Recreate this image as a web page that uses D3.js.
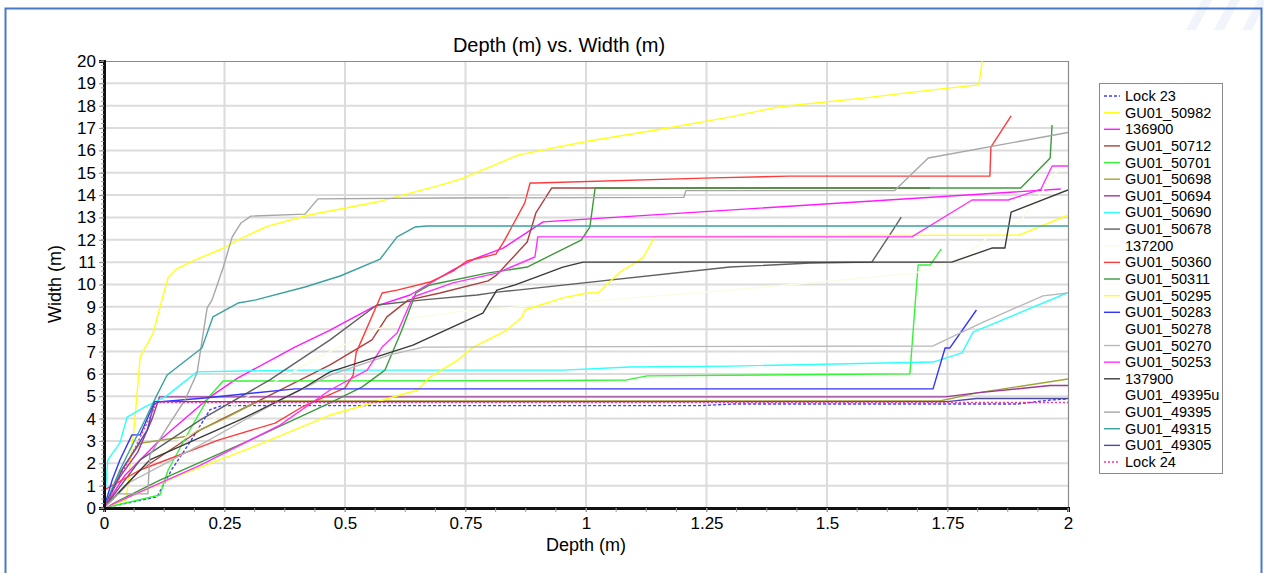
<!DOCTYPE html>
<html>
<head>
<meta charset="utf-8">
<script src="https://cdn.jsdelivr.net/npm/d3@7"></script>
<style>
  html, body { margin: 0; padding: 0; background: #ffffff; }
  svg { display: block; font-family: "Liberation Sans", Arial, sans-serif; }
</style>
</head>
<body>
<svg id="chart" width="1264" height="573"></svg>
<script>
// ---------------- DATA (depth m, width m) ----------------
const xTicks = [0, 0.25, 0.5, 0.75, 1, 1.25, 1.5, 1.75, 2];
const xTickLabels = ["0", "0.25", "0.5", "0.75", "1", "1.25", "1.5", "1.75", "2"];
const yTicks = d3.range(0, 21);

const seriesNames = ["Lock 23", "GU01_50982", "136900", "GU01_50712", "GU01_50701", "GU01_50698",
  "GU01_50694", "GU01_50690", "GU01_50678", "137200", "GU01_50360", "GU01_50311", "GU01_50295",
  "GU01_50283", "GU01_50278", "GU01_50270", "GU01_50253", "137900", "GU01_49395u", "GU01_49395",
  "GU01_49315", "GU01_49305", "Lock 24"];

const lock23 = [[0,0],[0.11,0.5],[0.14,1.7],[0.18,3.0],[0.22,4.4],[0.245,4.58],[1.24,4.58],[1.305,4.65],[1.894,4.65],[1.963,4.83],[2,4.88]];
const gu50982 = [[0,0],[0.046,0.36],[0.064,3.94],[0.075,6.76],[0.102,7.83],[0.12,9.3],[0.133,10.3],[0.151,10.7],[0.189,11.1],[0.245,11.6],[0.278,12.0],[0.338,12.6],[0.423,13.1],[0.568,13.7],[0.707,14.5],[0.744,14.75],[0.86,15.8],[1.0,16.4],[1.17,17.0],[1.3,17.5],[1.4,17.95],[1.57,18.33],[1.727,18.73],[1.815,18.93],[1.822,19.97],[1.83,20.6]];
const s136900 = [[0,0],[0.044,1.48],[0.116,3.04],[0.22,4.97],[0.278,5.82],[0.396,7.2],[0.469,7.96],[0.558,8.99],[0.635,9.53],[0.724,10.65],[0.768,11.14],[0.828,11.63],[0.911,12.8],[1.985,14.27]];
const gu50712 = [[0,0],[0.075,1.7],[0.2,3.49],[0.324,4.83],[0.469,6.4],[0.556,7.52],[0.587,8.55],[0.631,9.3],[0.697,9.62],[0.797,10.16],[0.815,10.43],[0.878,11.9],[0.896,13.2],[0.929,14.32],[1.714,14.32]];
const gu50701 = [[0,0],[0.116,0.58],[0.133,1.7],[0.178,3.49],[0.216,4.92],[0.247,5.68],[0.884,5.7],[1.085,5.73],[1.127,5.91],[1.672,6.0],[1.689,10.87],[1.714,10.87],[1.737,11.59]];
const gu50698 = [[0,0],[0.03,1.5],[0.075,2.9],[0.17,3.2],[0.25,4.0],[0.32,4.79],[1.734,4.79],[1.811,5.15],[2.0,5.77]];
const gu50694 = [[0,0],[0.03,1.3],[0.07,2.5],[0.1,4.0],[0.115,4.97],[1.745,4.97],[1.811,5.15],[1.963,5.48],[2,5.48]];
const gu50690 = [[0,0],[0.008,2.15],[0.033,2.91],[0.048,4.07],[0.085,4.52],[0.127,4.97],[0.193,6.09],[0.396,6.17],[0.952,6.17],[1.091,6.31],[1.299,6.35],[1.72,6.53],[1.78,6.94],[1.803,7.87],[1.998,9.62]];
const gu50678 = [[0,0],[0.075,2.15],[0.2,3.94],[0.344,5.73],[0.469,7.52],[0.566,9.08],[0.662,9.31],[0.774,9.53],[0.815,9.66],[0.857,9.75],[1.299,10.78],[1.465,10.96],[1.593,11.0],[1.637,12.44],[1.654,13.02]];
const s137200 = [[0,0],[0.1,2.2],[0.3,5.0],[0.45,6.8],[0.56,7.96],[0.64,8.5],[0.74,8.8],[1.3,9.75],[1.68,10.5],[1.78,11.2],[1.84,12.2],[1.9,12.8],[1.985,15.3],[2,15.6]];
const gu50360 = [[0,0.8],[0.075,1.7],[0.237,3.04],[0.355,3.8],[0.411,4.52],[0.5,5.37],[0.517,5.95],[0.523,6.94],[0.577,9.62],[0.608,9.75],[0.676,10.11],[0.724,10.6],[0.753,11.05],[0.813,11.36],[0.828,11.86],[0.873,13.65],[0.884,14.54],[0.896,14.54],[1.263,14.77],[1.421,14.85],[1.838,14.85],[1.84,16.15],[1.882,17.54]];
const gu50311 = [[0,0],[0.116,1.25],[0.303,3.04],[0.469,4.7],[0.535,5.41],[0.583,6.17],[0.618,7.96],[0.647,9.62],[0.676,9.98],[0.795,10.51],[0.878,10.78],[0.99,11.99],[1.008,12.57],[1.019,14.32],[1.902,14.32],[1.963,15.66],[1.967,17.14]];
const gu50295 = [[0,0],[0.158,1.48],[0.303,2.68],[0.469,4.16],[0.651,5.28],[0.676,5.86],[0.734,6.62],[0.766,7.2],[0.836,7.96],[0.867,8.55],[0.873,8.86],[0.952,9.4],[1.002,9.62],[1.025,9.62],[1.071,10.56],[1.118,11.19],[1.143,12.17],[1.898,12.21],[2.0,13.1]];
const gu50283 = [[0,0],[0.017,1.25],[0.033,2.15],[0.058,3.27],[0.075,3.27],[0.102,4.6],[0.112,4.74],[0.209,4.92],[0.396,5.33],[1.72,5.33],[1.745,7.16],[1.755,7.16],[1.81,8.86]];
const gu50278 = [[0,0],[0.02,0.4]];
const gu50270 = [[0,0],[0.054,1.16],[0.2,2.82],[0.365,4.83],[0.469,5.95],[0.593,6.85],[0.662,7.2],[1.72,7.25],[1.824,8.32],[1.948,9.49],[2.0,9.62]];
const gu50253 = [[0,0],[0.2,1.92],[0.365,3.71],[0.469,5.28],[0.546,6.17],[0.577,7.2],[0.608,7.83],[0.641,9.44],[0.724,10.07],[0.815,10.51],[0.894,11.23],[0.9,12.13],[1.676,12.13],[1.801,13.78],[1.876,13.78],[1.944,14.27],[1.967,15.3],[2.0,15.3]];
const s137900 = [[0,0],[0.095,2.15],[0.282,3.94],[0.407,5.28],[0.469,6.09],[0.641,7.29],[0.786,8.72],[0.815,9.75],[0.853,9.98],[0.898,10.34],[0.952,10.78],[0.994,11.0],[1.759,11.0],[1.842,11.63],[1.869,11.63],[1.882,13.24],[2.0,14.23]];
const gu49395u = [[0,0],[0.02,0.3]];
const gu49395 = [[0,0],[0.029,0.63],[0.091,0.63],[0.095,2.37],[0.141,3.94],[0.168,4.83],[0.193,6.04],[0.214,8.95],[0.224,9.3],[0.247,10.74],[0.266,12.13],[0.284,12.75],[0.305,13.06],[0.417,13.15],[0.444,13.83],[0.707,13.87],[1.203,13.9],[1.207,14.2],[1.64,14.2],[1.71,15.66],[2.0,16.8]];
const gu49315 = [[0,0],[0.033,1.7],[0.064,3.04],[0.085,3.94],[0.11,5.06],[0.131,5.95],[0.203,7.16],[0.226,8.55],[0.278,9.17],[0.313,9.3],[0.417,9.89],[0.49,10.38],[0.573,11.14],[0.608,12.13],[0.645,12.57],[0.67,12.62],[2,12.62]];
const gu49305 = [[0,0],[0.04,1.8],[0.09,3.5],[0.105,4.76],[1.75,4.76],[1.81,4.9],[2,4.9]];
const lock24 = [[0,0],[0.06,2.5],[0.11,4.72],[2,4.72]];

const seriesValues = [lock23, gu50982, s136900, gu50712, gu50701, gu50698, gu50694, gu50690, gu50678,
  s137200, gu50360, gu50311, gu50295, gu50283, gu50278, gu50270, gu50253, s137900, gu49395u, gu49395,
  gu49315, gu49305, lock24];

// ---------------- STYLE ----------------
const seriesColors = ["#3d3dff", "#ffff1a", "#ff1aff", "#a8423e", "#33f533", "#a3a338", "#9c389c", "#2effff",
  "#616161", "#fbfbe6", "#ff3b3b", "#3c9a3c", "#ffff1a", "#3535ff", "#ffffff", "#b8b8b8", "#ff33ff",
  "#3a3a3a", "#ffffff", "#a6a6a6", "#3aa0a0", "#4a4aa8", "#ff3399"];
const seriesDash = seriesNames.map(n => n === "Lock 23" ? "3,2" : (n === "Lock 24" ? "2,2" : null));

const svg = d3.select("#chart");
const W = 1264, H = 573;

// page frame decoration
const deco = svg.append("g");
[1186, 1214, 1242].forEach(x0 => {
  deco.append("path").attr("d", `M${x0},30 L${x0 + 16},0 L${x0 + 26},0 L${x0 + 10},30 Z`).attr("fill", "#f1f4fb");
});
deco.append("path").attr("d", `M5.5,${H} L5.5,8.5 L1261.5,8.5 L1261.5,${H}`)
  .attr("fill", "none").attr("stroke", "#4a78c8").attr("stroke-width", 2);

const x = d3.scaleLinear().domain([0, 2]).range([104, 1068]);
const y = d3.scaleLinear().domain([0, 20]).range([508, 61]);

// gridlines
const grid = svg.append("g");
grid.selectAll("line.gx").data(xTicks.slice(1, -1)).join("line")
  .attr("x1", d => x(d)).attr("x2", d => x(d)).attr("y1", y(20)).attr("y2", y(0))
  .attr("stroke", "#dcdcdc").attr("stroke-width", 2);
grid.selectAll("line.gy").data(yTicks.slice(1, -1)).join("line")
  .attr("y1", d => y(d)).attr("y2", d => y(d)).attr("x1", x(0)).attr("x2", x(2))
  .attr("stroke", "#dcdcdc").attr("stroke-width", 2);

// frame top & right
svg.append("path").attr("d", `M${x(0)},${y(20) + 0.5} L${x(2) + 0.5},${y(20) + 0.5} L${x(2) + 0.5},${y(0)}`)
  .attr("fill", "none").attr("stroke", "#8a8a8a").attr("stroke-width", 1.2);

// clip
svg.append("clipPath").attr("id", "plotclip").append("rect")
  .attr("x", x(0)).attr("y", y(20)).attr("width", x(2) - x(0)).attr("height", y(0) - y(20));

const line = d3.line().x(d => x(d[0])).y(d => y(d[1]));
const plot = svg.append("g").attr("clip-path", "url(#plotclip)");
seriesValues.forEach((vals, i) => {
  plot.append("path").datum(vals)
    .attr("d", line)
    .attr("fill", "none")
    .attr("stroke", seriesColors[i])
    .attr("stroke-width", 1.4)
    .attr("stroke-linejoin", "round")
    .attr("stroke-dasharray", seriesDash[i]);
});

// axes
const xAxis = d3.axisBottom(x).tickValues(xTicks).tickFormat((d, i) => xTickLabels[i]).tickSize(4).tickPadding(5);
const gx = svg.append("g").attr("transform", `translate(0,${y(0)})`).call(xAxis);
gx.select(".domain").attr("stroke", "#111").attr("stroke-width", 3);
gx.selectAll(".tick line").attr("stroke", "#999");
gx.selectAll("text").attr("font-size", 17).attr("fill", "#000").attr("font-family", "Liberation Sans, Arial, sans-serif");
// minor x ticks
svg.append("g").selectAll("line").data(d3.range(0, 2.0001, 0.0625)).join("line")
  .attr("x1", d => x(d)).attr("x2", d => x(d)).attr("y1", y(0)).attr("y2", y(0) + 4)
  .attr("stroke", "#999").attr("stroke-width", 1);

const yAxis = d3.axisLeft(y).tickValues(yTicks).tickFormat(d3.format("d")).tickSize(5).tickPadding(3);
const gy = svg.append("g").attr("transform", `translate(${x(0)},0)`).call(yAxis);
gy.select(".domain").attr("stroke", "#111").attr("stroke-width", 3);
gy.selectAll(".tick line").attr("stroke", "#888");
gy.selectAll("text").attr("font-size", 17).attr("fill", "#000").attr("font-family", "Liberation Sans, Arial, sans-serif");
// minor y ticks
svg.append("g").selectAll("line").data(d3.range(0, 20.001, 0.2)).join("line")
  .attr("x1", x(0) - 3).attr("x2", x(0)).attr("y1", d => y(d)).attr("y2", d => y(d))
  .attr("stroke", "#999").attr("stroke-width", 1);

// titles
svg.append("text").attr("x", 559).attr("y", 52).attr("text-anchor", "middle")
  .attr("font-size", 20).attr("fill", "#000").text("Depth (m) vs. Width (m)");
svg.append("text").attr("x", 586).attr("y", 551).attr("text-anchor", "middle")
  .attr("font-size", 18).attr("fill", "#000").text("Depth (m)");
svg.append("text").attr("transform", "translate(61,284) rotate(-90)").attr("text-anchor", "middle")
  .attr("font-size", 18).attr("fill", "#000").text("Width (m)");

// legend
const lg = svg.append("g");
lg.append("rect").attr("x", 1099.5).attr("y", 83.5).attr("width", 123).attr("height", 390)
  .attr("fill", "#fff").attr("stroke", "#8a8a8a").attr("stroke-width", 1);
const ly = d3.scalePoint().domain(seriesNames).range([96, 462]);
seriesNames.forEach((n, i) => {
  lg.append("line").attr("x1", 1104).attr("x2", 1120).attr("y1", ly(n)).attr("y2", ly(n))
    .attr("stroke", seriesColors[i]).attr("stroke-width", 1.4).attr("stroke-dasharray", seriesDash[i]);
  lg.append("text").attr("x", 1125).attr("y", ly(n) + 5).attr("font-size", 14.5).attr("fill", "#000").text(n);
});
</script>
</body>
</html>
